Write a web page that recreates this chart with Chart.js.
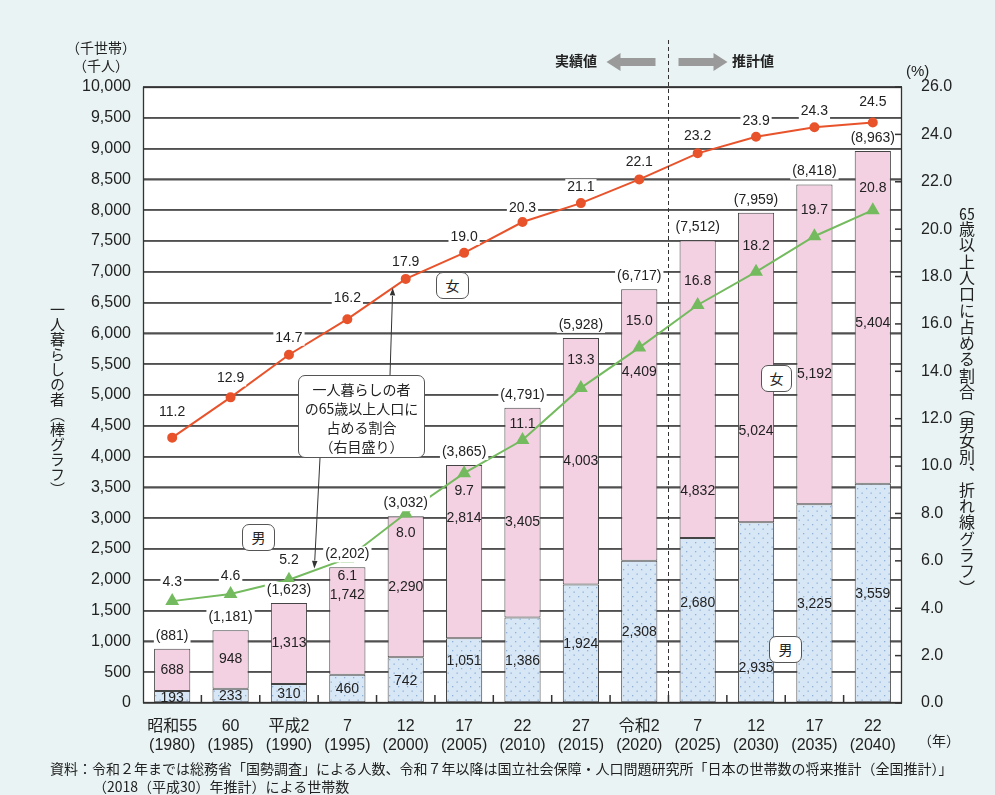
<!DOCTYPE html>
<html lang="ja">
<head>
<meta charset="utf-8">
<title>一人暮らしの者の動向</title>
<script src="https://cdn.jsdelivr.net/npm/chart.js@4.4.0/dist/chart.umd.min.js"></script>
<style>
  body { margin: 0; background: #e9f3f3; }
  #wrap { position: relative; width: 995px; height: 795px; font-family: "Noto Sans CJK JP", sans-serif; color: #222; }
  #plotbg { position: absolute; left: 143px; top: 87px; width: 759px; height: 616px; background: #fff; }
  #chart { position: absolute; left: 0; top: 0; }
  .t { position: absolute; white-space: nowrap; font-size: 14px; line-height: 1; }
  .vert { position: absolute; writing-mode: vertical-rl; font-size: 15px; line-height: 1; white-space: nowrap; }
  .tcy { text-combine-upright: all; }
  .box { position: absolute; background: #fff; border: 1px solid #555; border-radius: 7px; text-align: center; font-size: 14px; box-sizing: border-box; }
</style>
</head>
<body>
<div id="wrap">
  <div id="plotbg"></div>
  <canvas id="chart" width="995" height="795"></canvas>

  <div class="t" style="left:66px;top:40px;">（千世帯）</div>
  <div class="t" style="left:73px;top:58px;">（千人）</div>
  <div class="t" style="left:906px;top:63px;font-family:'Liberation Sans',sans-serif;font-size:15px;">(%)</div>
  <div class="t" style="left:918px;top:733px;">（年）</div>

  <div class="t" style="left:555px;top:53px;font-weight:bold;">実績値</div>
  <div class="t" style="left:732px;top:53px;font-weight:bold;">推計値</div>

  <div class="vert" style="left:50px;top:302px;">一人暮らしの者（棒グラフ）</div>
  <div class="vert" style="left:959px;top:205px;font-size:16px;letter-spacing:0.3px;"><span class="tcy">65</span>歳以上人口に占める割合（男女別、折れ線グラフ）</div>

  <div class="box" style="left:298px;top:375px;width:127px;height:83px;padding-top:4px;line-height:19px;">一人暮らしの者<br>の65歳以上人口に<br>占める割合<br>（右目盛り）</div>
  <div class="box" style="left:436px;top:272px;width:33px;height:27px;line-height:25px;">女</div>
  <div class="box" style="left:761px;top:365px;width:31px;height:27px;line-height:25px;">女</div>
  <div class="box" style="left:242px;top:524px;width:33px;height:27px;line-height:25px;">男</div>
  <div class="box" style="left:769px;top:636px;width:33px;height:27px;line-height:25px;">男</div>

  <div class="t" style="left:50px;top:761px;">資料：令和２年までは総務省「国勢調査」による人数、令和７年以降は国立社会保障・人口問題研究所「日本の世帯数の将来推計（全国推計）」</div>
  <div class="t" style="left:93px;top:779px;">（2018（平成30）年推計）による世帯数</div>
</div>

<script>
const eraLabels = ["昭和55", "60", "平成2", "7", "12", "17", "22", "27", "令和2", "7", "12", "17", "22"];
const yearLabels = ["(1980)", "(1985)", "(1990)", "(1995)", "(2000)", "(2005)", "(2010)", "(2015)", "(2020)", "(2025)", "(2030)", "(2035)", "(2040)"];

// 千人
const maleCount = [193, 233, 310, 460, 742, 1051, 1386, 1924, 2308, 2680, 2935, 3225, 3559];
const femaleCount = [688, 948, 1313, 1742, 2290, 2814, 3405, 4003, 4409, 4832, 5024, 5192, 5404];
const totalCount = [881, 1181, 1623, 2202, 3032, 3865, 4791, 5928, 6717, 7512, 7959, 8418, 8963];

// %
const femaleRate = [11.2, 12.9, 14.7, 16.2, 17.9, 19.0, 20.3, 21.1, 22.1, 23.2, 23.9, 24.3, 24.5];
const maleRate = [4.3, 4.6, 5.2, 6.1, 8.0, 9.7, 11.1, 13.3, 15.0, 16.8, 18.2, 19.7, 20.8];

// label nudges (px) so numbers stay clear of the lines
const femaleLabelShift = [0, 0, 0, -26, 0, -33, 9, 0, -53, 102, 64, 30, 6];
const maleLabelShift = [0, 0, 0, 0, 0, -10, 0, 0, 0, -18, 55, 0, 0];
const maleRateShift = [-19, -18, -20, 18, 20, 18, -16, -28, -26, -24, -26, -26, -22];
const femaleRateShift = [-26, -19, -17, -21, -17, -16, -14, -16, -17, -17, -16, -16, -20];

const NUM_FONT = "14px 'Liberation Sans', Arial, sans-serif";

function dotPattern() {
  const c = document.createElement("canvas");
  c.width = 9; c.height = 9;
  const g = c.getContext("2d");
  g.fillStyle = "#d8e7f6";
  g.fillRect(0, 0, 9, 9);
  g.fillStyle = "#8eafd6";
  g.fillRect(2, 2, 1.3, 1.3);
  g.fillRect(6.5, 6.5, 1.3, 1.3);
  return g.createPattern(c, "repeat");
}

function arrow(ctx, x1, y1, x2, y2, head) {
  const a = Math.atan2(y2 - y1, x2 - x1);
  ctx.beginPath();
  ctx.moveTo(x1, y1);
  ctx.lineTo(x2 - Math.cos(a) * head, y2 - Math.sin(a) * head);
  ctx.stroke();
  ctx.beginPath();
  ctx.moveTo(x2, y2);
  ctx.lineTo(x2 - head * Math.cos(a - 0.35), y2 - head * Math.sin(a - 0.35));
  ctx.lineTo(x2 - head * Math.cos(a + 0.35), y2 - head * Math.sin(a + 0.35));
  ctx.closePath();
  ctx.fill();
}

function fatArrow(ctx, xTail, xTip, y) {
  const dir = Math.sign(xTip - xTail);
  const headLen = 14;
  ctx.beginPath();
  ctx.moveTo(xTail, y - 4);
  ctx.lineTo(xTip - dir * headLen, y - 4);
  ctx.lineTo(xTip - dir * headLen, y - 9);
  ctx.lineTo(xTip, y);
  ctx.lineTo(xTip - dir * headLen, y + 9);
  ctx.lineTo(xTip - dir * headLen, y + 4);
  ctx.lineTo(xTail, y + 4);
  ctx.closePath();
  ctx.fill();
}

function textWithBg(ctx, s, x, y, bg) {
  if (bg) {
    const w = ctx.measureText(s).width;
    ctx.fillStyle = "#fff";
    ctx.fillRect(x - w / 2 - 2, y - 8, w + 4, 16);
  }
  ctx.fillStyle = "#222";
  ctx.fillText(s, x, y);
}

const decorations = {
  id: "decorations",
  afterDatasetsDraw(chart) {
    const ctx = chart.ctx;
    const fRateMeta = chart.getDatasetMeta(0);
    const mRateMeta = chart.getDatasetMeta(1);
    const maleMeta = chart.getDatasetMeta(2);
    const femaleMeta = chart.getDatasetMeta(3);
    ctx.save();
    ctx.font = NUM_FONT;
    ctx.textAlign = "center";
    ctx.textBaseline = "middle";
    const fmt = v => v.toLocaleString("en-US");

    maleMeta.data.forEach((el, i) => {
      textWithBg(ctx, fmt(maleCount[i]), el.x, (el.y + el.base) / 2 + 1 + maleLabelShift[i], false);
    });
    femaleMeta.data.forEach((el, i) => {
      textWithBg(ctx, fmt(femaleCount[i]), el.x, (el.y + el.base) / 2 + femaleLabelShift[i], false);
      textWithBg(ctx, "(" + fmt(totalCount[i]) + ")", el.x, el.y - 13, true);
    });

    const barTop = i => femaleMeta.data[i].y;
    fRateMeta.data.forEach((pt, i) => {
      const y = pt.y + femaleRateShift[i];
      textWithBg(ctx, femaleRate[i].toFixed(1), pt.x, y, y - 8 < barTop(i));
    });
    mRateMeta.data.forEach((pt, i) => {
      const y = pt.y + maleRateShift[i];
      textWithBg(ctx, maleRate[i].toFixed(1), pt.x, y, y - 8 < barTop(i));
    });
    ctx.restore();
  },
  afterDraw(chart) {
    const { ctx, chartArea: a, scales } = chart;
    const x = scales.x;
    const ys = scales.y;
    const y1 = scales.y1;
    ctx.save();

    // horizontal grid every 500, slid underneath bars and labels
    ctx.globalCompositeOperation = "destination-over";
    ctx.fillStyle = "#505050";
    for (let k = 0; k <= 20; k++) {
      let py = ys.getPixelForValue(k * 500);
      if (!isFinite(py)) py = a.bottom - (k / 20) * (a.bottom - a.top);
      ctx.fillRect(a.left, Math.round(py) - 0.75, a.right - a.left, 1.5);
    }
    ctx.globalCompositeOperation = "source-over";

    // plot frame
    ctx.strokeStyle = "#333";
    ctx.lineWidth = 1.3;
    ctx.strokeRect(a.left + 0.5, a.top + 0.5, a.right - a.left - 1, a.bottom - a.top - 1);

    // inward ticks: category boundaries at the bottom, right-axis majors
    ctx.fillStyle = "#333";
    for (let i = 0; i < eraLabels.length - 1; i++) {
      const bx = (x.getPixelForTick(i) + x.getPixelForTick(i + 1)) / 2;
      ctx.fillRect(bx - 0.75, a.bottom - 8, 1.5, 8);
    }
    for (let k = 0; k <= 13; k++) {
      const ty = y1.getPixelForValue(k * 2);
      ctx.fillRect(a.right - 7, ty - 0.75, 7, 1.5);
    }

    // actual / projected divider
    const divX = Math.round((x.getPixelForTick(8) + x.getPixelForTick(9)) / 2) + 0.5;
    ctx.strokeStyle = "#333";
    ctx.lineWidth = 1;
    ctx.setLineDash([4, 3]);
    ctx.beginPath();
    ctx.moveTo(divX, 40);
    ctx.lineTo(divX, a.bottom);
    ctx.stroke();
    ctx.setLineDash([]);

    ctx.fillStyle = "#9a9a9a";
    fatArrow(ctx, divX - 13, divX - 62, 62);
    fatArrow(ctx, divX + 10, divX + 59, 62);

    // callout arrows
    ctx.fillStyle = "#333";
    const fPt = chart.getDatasetMeta(0).data[4];
    const mPt = chart.getDatasetMeta(1).data[3];
    arrow(ctx, 390, 375, fPt.x - 13, fPt.y + 9, 8);
    arrow(ctx, 320, 458, mPt.x - 33, mPt.y + 10, 8);
    ctx.restore();
  }
};

const ctx = document.getElementById("chart").getContext("2d");

new Chart(ctx, {
  type: "bar",
  data: {
    labels: eraLabels.map((e, i) => [e, yearLabels[i]]),
    datasets: [
      {
        type: "line",
        label: "女（割合）",
        data: femaleRate,
        yAxisID: "y1",
        borderColor: "#e8532b",
        backgroundColor: "#e8532b",
        borderWidth: 2,
        pointStyle: "circle",
        pointRadius: 4,
        tension: 0,
        fill: false,
        order: 0
      },
      {
        type: "line",
        label: "男（割合）",
        data: maleRate,
        yAxisID: "y1",
        borderColor: "#74ba5e",
        backgroundColor: "#74ba5e",
        borderWidth: 2,
        pointStyle: "triangle",
        pointRadius: 6,
        tension: 0,
        fill: false,
        order: 0
      },
      {
        label: "男",
        data: maleCount,
        yAxisID: "y",
        stack: "s",
        backgroundColor: dotPattern(),
        borderColor: "#444",
        borderWidth: 1,
        borderSkipped: false,
        barPercentage: 0.62,
        categoryPercentage: 1,
        order: 1
      },
      {
        label: "女",
        data: femaleCount,
        yAxisID: "y",
        stack: "s",
        backgroundColor: "#f4d1e2",
        borderColor: "#444",
        borderWidth: 1,
        borderSkipped: false,
        barPercentage: 0.62,
        categoryPercentage: 1,
        order: 2
      }
    ]
  },
  options: {
    responsive: false,
    animation: false,
    devicePixelRatio: 1,
    layout: { padding: { top: 87, left: 0, right: 0, bottom: 0 } },
    plugins: {
      legend: { display: false },
      tooltip: { enabled: false }
    },
    scales: {
      x: {
        stacked: true,
        grid: { display: false },
        border: { display: false },
        ticks: {
          color: "#222",
          font: { family: "'Liberation Sans', 'Noto Sans CJK JP', sans-serif", size: 16 },
          padding: 6,
          maxRotation: 0,
          autoSkip: false
        },
        afterFit: s => { s.height = 92; }
      },
      y: {
        stacked: true,
        min: 0,
        max: 10000,
        position: "left",
        grid: { color: "#505050", lineWidth: 1.5, drawTicks: false },
        border: { display: false },
        ticks: {
          stepSize: 500,
          padding: 12,
          color: "#222",
          font: { family: "'Liberation Sans', sans-serif", size: 16 },
          callback: v => v.toLocaleString("en-US")
        },
        afterFit: s => { s.width = 143; }
      },
      y1: {
        min: 0,
        max: 26,
        position: "right",
        grid: { display: false },
        border: { display: false },
        ticks: {
          stepSize: 2,
          padding: 11,
          color: "#222",
          font: { family: "'Liberation Sans', sans-serif", size: 16 },
          callback: v => v.toFixed(1)
        },
        afterFit: s => { s.width = 93; }
      }
    }
  },
  plugins: [decorations]
});
</script>
</body>
</html>
